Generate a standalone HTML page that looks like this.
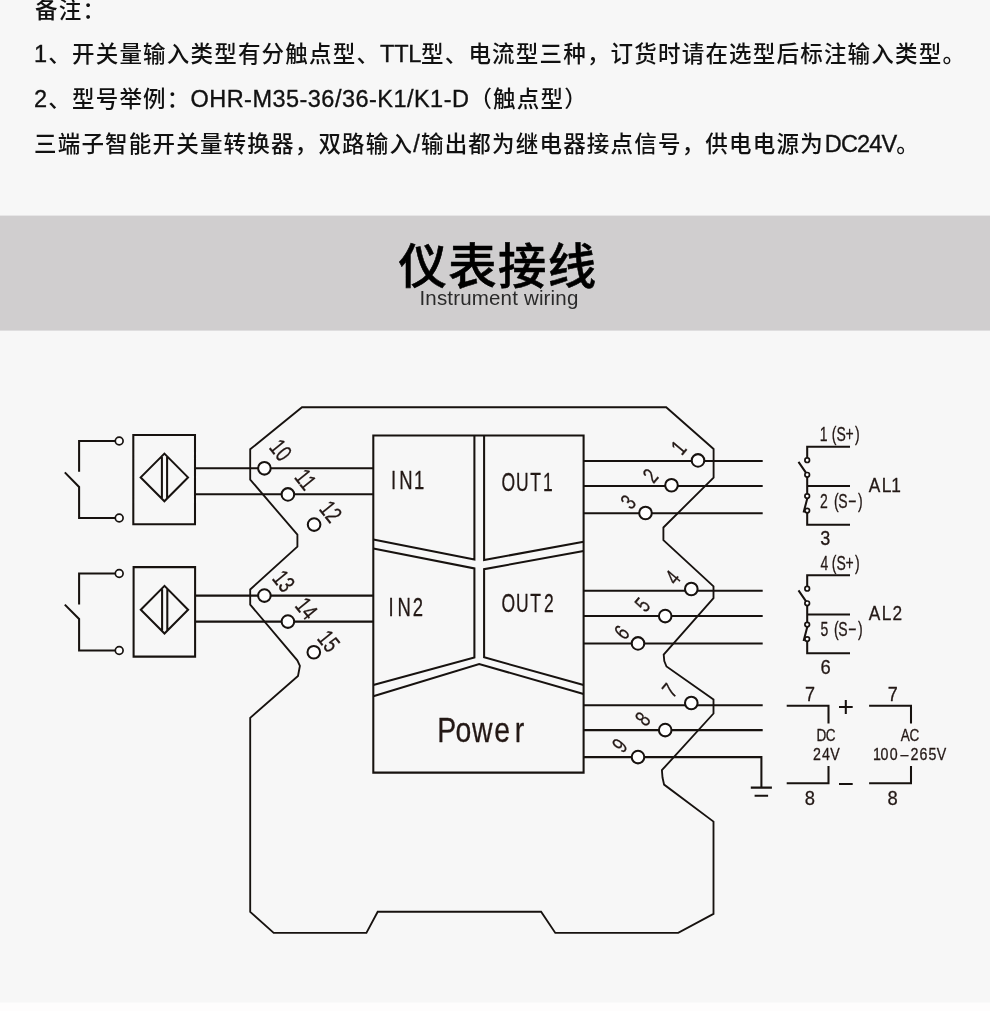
<!DOCTYPE html>
<html lang="zh-CN">
<head>
<meta charset="utf-8">
<title>仪表接线</title>
<style>
html,body{margin:0;padding:0;}
body{will-change:transform;width:990px;height:1011px;overflow:hidden;background:#f7f7f7;position:relative;
  font-family:"Liberation Sans","Noto Sans CJK SC",sans-serif;color:#111;}
.note{position:absolute;left:34px;white-space:nowrap;font-size:22.5px;line-height:34px;height:34px;letter-spacing:1.2px;color:#111;font-weight:500;}
.l{font-size:23.5px;-webkit-text-stroke:0.35px #111;}
.title{position:absolute;left:3px;width:990px;text-align:center;top:231px;font-size:48.4px;line-height:72px;font-weight:500;-webkit-text-stroke:0.55px #000;letter-spacing:1.3px;color:#000;white-space:nowrap;}
.sub{position:absolute;left:4px;width:990px;text-align:center;top:284px;font-size:20.5px;line-height:28px;font-weight:300;color:#2a2a2a;letter-spacing:0.17px;white-space:nowrap;}
svg{position:absolute;left:0;top:0;}
svg text{font-family:"Liberation Sans",sans-serif;}
</style>
</head>
<body>
<div class="note" style="top:-6px;left:35px">备注：</div>
<div class="note" style="top:37px"><span class="l">1</span>、开关量输入类型有分触点型、<span class="l" style="letter-spacing:-0.3px">TTL</span>型、电流型三种，订货时请在选型后标注输入类型。</div>
<div class="note" style="top:82px"><span class="l">2</span>、型号举例：<span class="l" style="letter-spacing:0.47px">OHR-M35-36/36-K1/K1-D</span>（触点型）</div>
<div class="note" style="top:127px">三端子智能开关量转换器，双路输入<span class="l">/</span>输出都为继电器接点信号，供电电源为<span class="l" style="letter-spacing:-0.85px;margin-left:1px">DC24V</span>。</div>
<svg width="990" height="1011" viewBox="0 0 990 1011"><rect x="0" y="215.6" width="990" height="115" fill="#d0cecf"/><rect x="0" y="1002.5" width="990" height="9" fill="#fefdfd"/></svg>
<div class="title">仪表接线</div>
<div class="sub">Instrument wiring</div>

<svg width="990" height="1011" viewBox="0 0 990 1011">
<g fill="none" stroke="#17120f" stroke-width="2.05" stroke-linejoin="miter" stroke-linecap="butt">
<!-- housing outline -->
<path d="M302 407.2 L666.2 407.2 L713.6 449 L713.6 477.6 L663.4 527.5 L663.4 540.2 L713.5 586.4 L713.5 598.2 L663.7 654.6 L664.3 661 L666.5 666.5 L713.5 699.4 L713.5 713.5 L661.9 770.2 L662.5 777.5 L664.1 784.6 L713.5 821.6 L713.5 913.9 L678.2 932.9 L555.3 932.9 L541.1 911.7 L377.7 911.7 L366.4 932.9 L273.7 932.9 L250.2 911.9 L250.2 717.9 L298 676 L299.9 665.8 L297.3 660.3 L250.2 604.6 L250.2 589.5 L297.4 546.6 L297.4 534.7 L250.2 479.6 L250.2 449.3 Z" stroke-width="1.85"/>
<!-- central module -->
<path d="M373.3 435.5 H583.6 V772.6 H373.3 Z"/>
<!-- IN1 -->
<path d="M474.4 435.5 V559.5 L373.3 539.6"/>
<!-- OUT1 -->
<path d="M484.1 435.5 V560 L583.6 541.8"/>
<!-- IN2 -->
<path d="M373.3 548.4 L474.4 568.4 V657.5 L373.3 685"/>
<!-- OUT2 -->
<path d="M583.6 551 L484.1 569.2 V657.3 L583.6 685"/>
<!-- Power -->
<path d="M373.3 696.3 L479.2 664 L583.6 693.9"/>
<!-- input wires -->
<path d="M195 468.3 H373.3 M195 494.3 H373.3 M195 595.6 H373.3 M195 621.6 H373.3"/>
<!-- output wires -->
<path d="M583.6 460.9 H762.7 M583.6 485.9 H762.7 M583.6 513.2 H762.7 M583.6 590.8 H762.7 M583.6 616 H762.7 M583.6 643.4 H762.7 M583.6 705.2 H762.7 M583.6 730.1 H762.7 M583.6 757.1 H761.4 V787.6"/>
<!-- earth -->
<path d="M750.8 787.6 H771.9 M754.6 795.8 H768.1"/>
<!-- sensor 1 -->
<path d="M133.3 435 H195 V524.2 H133.3 Z M140.7 477.4 L164.4 453.6 L188 477.4 L164.4 501.2 Z M161.9 457 V498 M167.1 457 V498"/>
<!-- sensor 2 -->
<path d="M133.6 567.1 H195.1 V656.6 H133.6 Z M140.8 609.7 L164.5 585.9 L188.1 609.7 L164.5 633.5 Z M162.1 589.2 V630.2 M167.3 589.2 V630.2"/>
<!-- switch 1 -->
<path d="M115.3 441 H79.1 V471.8 M64.8 472.4 L79.1 487 V518 H115.3"/>
<!-- switch 2 -->
<path d="M115.3 573.5 H79.1 V604.4 M64.8 604.6 L79.1 619 V650.5 H115.3"/>
<!-- relay AL1 -->
<path d="M850 446.8 H807.2 V458 M798.5 461.8 L806.4 473.3 M807.2 477 V494 M807.2 485.9 H850 M807.4 498 L803.6 512.4 M807.2 512.8 V524.8 H850"/>
<!-- relay AL2 -->
<path d="M850 575.3 H807.2 V586.5 M798.5 590.3 L806.4 601.8 M807.2 605.5 V622.5 M807.2 614.4 H850 M807.4 626.5 L803.6 640.9 M807.2 641.3 V653.3 H850"/>
<!-- DC supply -->
<path d="M786.7 705.8 H828.5 V723.6 M828.5 765.9 V783.2 H786.7"/>
<!-- AC supply -->
<path d="M869.1 705.8 H911 V723.6 M911 765.9 V783.2 H869.1"/>
<!-- polarity -->
<path d="M839 706.9 H852.7 M845.8 699.9 V714 M839 783.9 H852.7"/>
</g>
<g fill="#ffffff" stroke="#17120f" stroke-width="2.05">
<circle cx="264.4" cy="468.3" r="6.3"/><circle cx="287.9" cy="494.4" r="6.3"/><circle cx="314.1" cy="524.6" r="6.3"/><circle cx="264.4" cy="595.6" r="6.3"/><circle cx="287.9" cy="621.6" r="6.3"/><circle cx="313.8" cy="652.2" r="6.3"/><circle cx="698" cy="460.4" r="6.3"/><circle cx="671.5" cy="485.2" r="6.3"/><circle cx="645.5" cy="513" r="6.3"/><circle cx="691.3" cy="589" r="6.3"/><circle cx="665.2" cy="616.1" r="6.3"/><circle cx="638" cy="643.4" r="6.3"/><circle cx="691.3" cy="703" r="6.3"/><circle cx="665.2" cy="730.1" r="6.3"/><circle cx="638" cy="757.1" r="6.3"/>
</g>
<g fill="#ffffff" stroke="#17120f" stroke-width="1.7">
<circle cx="119.2" cy="441" r="3.9"/><circle cx="119.2" cy="518" r="3.9"/><circle cx="119.2" cy="573.5" r="3.9"/><circle cx="119.2" cy="650.5" r="3.9"/>
<circle cx="807.2" cy="460.2" r="2.3"/><circle cx="807.2" cy="474.8" r="2.3"/><circle cx="807.2" cy="496.1" r="2.3"/><circle cx="807.2" cy="510.6" r="2.3"/><circle cx="807.2" cy="588.7" r="2.3"/><circle cx="807.2" cy="603.3" r="2.3"/><circle cx="807.2" cy="624.6" r="2.3"/><circle cx="807.2" cy="639.1" r="2.3"/>
</g>
<g fill="#231815" stroke="#231815" stroke-width="0.3" stroke-linejoin="round">
<g text-anchor="middle">
<text transform="translate(281 450) rotate(51) scale(0.73 1)" y="8.52" font-size="24">10</text>
<text transform="translate(305.8 479.3) rotate(51) scale(0.73 1)" y="8.52" font-size="24">11</text>
<text transform="translate(330.9 511.4) rotate(51) scale(0.73 1)" y="8.52" font-size="24">12</text>
<text transform="translate(283.9 580.9) rotate(51) scale(0.73 1)" y="8.52" font-size="24">13</text>
<text transform="translate(306.7 608.3) rotate(51) scale(0.73 1)" y="8.52" font-size="24">14</text>
<text transform="translate(328.9 640.9) rotate(51) scale(0.73 1)" y="8.52" font-size="24">15</text>
<text transform="translate(678.4 447.4) rotate(-50) scale(0.73 1)" y="8.09" font-size="22.8">1</text>
<text transform="translate(650.3 475.5) rotate(-50) scale(0.73 1)" y="8.09" font-size="22.8">2</text>
<text transform="translate(627.9 501.7) rotate(-50) scale(0.73 1)" y="8.09" font-size="22.8">3</text>
<text transform="translate(672.6 577.2) rotate(-50) scale(0.73 1)" y="8.09" font-size="22.8">4</text>
<text transform="translate(642.3 604.4) rotate(-50) scale(0.73 1)" y="8.09" font-size="22.8">5</text>
<text transform="translate(621.6 632.2) rotate(-50) scale(0.73 1)" y="8.09" font-size="22.8">6</text>
<text transform="translate(669.6 690.2) rotate(-50) scale(0.73 1)" y="8.09" font-size="22.8">7</text>
<text transform="translate(642.5 718.7) rotate(-50) scale(0.73 1)" y="8.09" font-size="22.8">8</text>
<text transform="translate(619.5 745.3) rotate(-50) scale(0.73 1)" y="8.09" font-size="22.8">9</text>
</g>
<g text-anchor="middle">
<text transform="scale(0.74 1)" x="531.76 548.51 566.49" y="489.3" font-size="25">IN1</text>
<text transform="scale(0.74 1)" x="528.65 546.22 564.86" y="616.3" font-size="25">IN2</text>
<text transform="scale(0.7 1)" x="726.14 746.14 765.29 782.71" y="491.3" font-size="25">OUT1</text>
<text transform="scale(0.7 1)" x="726.14 746.14 765.29 784.00" y="612.4" font-size="25">OUT2</text>
<text transform="scale(0.8 1)" x="558.50 579.12 602.75 627.75 649.50" y="741.9" font-size="35.5">Power</text>
<text transform="scale(0.7 1)" x="1176.57 1191.71 1201.71 1213.57 1224.71" y="441.5" font-size="20">1(S+)</text>
<text transform="scale(0.7 1)" x="1177.00 1194.71 1204.29 1217.71 1229.00" y="508.2" font-size="20">2(S−)</text>
<text transform="scale(0.9 1)" x="917.00" y="545.4" font-size="20">3</text>
<text transform="scale(0.7 1)" x="1177.57 1191.71 1201.71 1213.57 1224.71" y="570.1" font-size="20">4(S+)</text>
<text transform="scale(0.7 1)" x="1177.71 1194.71 1204.29 1217.71 1229.00" y="636" font-size="20">5(S−)</text>
<text transform="scale(0.92 1)" x="897.50" y="674.2" font-size="20">6</text>
<text transform="scale(0.84 1)" x="1041.19 1055.48 1066.67" y="492.4" font-size="20.6">AL1</text>
<text transform="scale(0.84 1)" x="1041.19 1055.48 1068.10" y="620.4" font-size="20.6">AL2</text>
<text transform="scale(0.9 1)" x="900.00" y="701.2" font-size="20">7</text>
<text transform="scale(0.9 1)" x="991.89" y="701.2" font-size="20">7</text>
<text transform="scale(0.92 1)" x="880.22" y="805" font-size="20">8</text>
<text transform="scale(0.92 1)" x="970.11" y="805" font-size="20">8</text>
<text transform="scale(0.86 1)" x="955.12 965.93" y="741.3" font-size="15.8">DC</text>
<text transform="scale(0.9 1)" x="907.78 917.67 927.78" y="759.8" font-size="15.8">24V</text>
<text transform="scale(0.86 1)" x="1052.56 1063.37" y="741.3" font-size="15.8">AC</text>
<text transform="scale(0.9 1)" x="974.44 982.78 992.89 1005.00 1016.00 1026.11 1036.00 1046.11" y="759.8" font-size="15.8">100–265V</text>
</g>
</g>
</svg>
</body>
</html>
